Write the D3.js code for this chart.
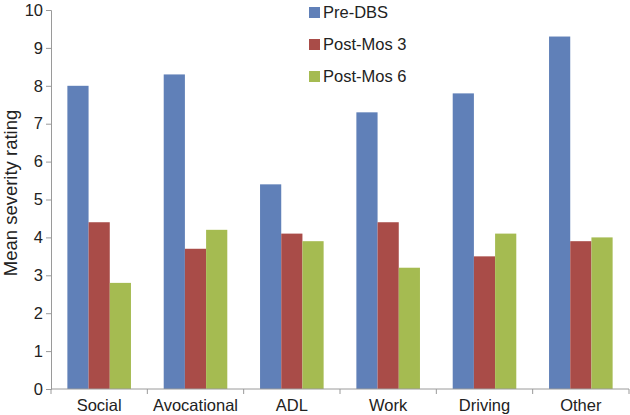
<!DOCTYPE html>
<html><head><meta charset="utf-8">
<script src="https://cdn.jsdelivr.net/npm/d3@7"></script>
<style>body{margin:0;background:#fff}svg{display:block}text{font-family:"Liberation Sans",Arial,sans-serif}</style>
</head><body>
<svg id="c" width="630" height="415"></svg>
<script>
const categories = ["Social","Avocational","ADL","Work","Driving","Other"];
const seriesNames = ["Pre-DBS","Post-Mos 3","Post-Mos 6"];
const preDBS = [8.0, 8.3, 5.4, 7.3, 7.8, 9.3];
const postMos3 = [4.4, 3.7, 4.1, 4.4, 3.5, 3.9];
const postMos6 = [2.8, 4.2, 3.9, 3.2, 4.1, 4.0];
const yTicks = [0,1,2,3,4,5,6,7,8,9,10];
const colors = ["#6080b8","#a94c48","#a5bb51"];

const series = [preDBS, postMos3, postMos6];
const svg = d3.select("#c");
const m = {left:51, right:629, top:10, bottom:389};
const x = d3.scaleBand().domain(categories).range([m.left, m.right]).paddingInner(0.34).paddingOuter(0.17);
const x1 = d3.scaleBand().domain(seriesNames).range([0, x.bandwidth()]);
const y = d3.scaleLinear().domain([0,10]).range([m.bottom, m.top]);

const g = svg.append("g");
categories.forEach((c,i)=>{
  seriesNames.forEach((s,j)=>{
    g.append("rect").attr("x", x(c)+x1(s)).attr("y", y(series[j][i]))
     .attr("width", x1.bandwidth()).attr("height", y(0)-y(series[j][i])).attr("fill", colors[j]);
  });
});

const axisColor = "#9a9a9a";
const ya = svg.append("g").attr("transform",`translate(${m.left},0)`)
  .call(d3.axisLeft(y).tickValues(yTicks).tickSize(5).tickPadding(3));
ya.select(".domain").attr("stroke",axisColor);
ya.selectAll(".tick line").attr("stroke",axisColor);
ya.selectAll("text").attr("font-size",16.5).attr("fill","#222").attr("font-family","Liberation Sans, Arial, sans-serif");

const xa = svg.append("g").attr("transform",`translate(0,${m.bottom})`);
xa.append("line").attr("x1",m.left).attr("x2",m.right).attr("stroke",axisColor);
const bounds = d3.range(categories.length+1).map(i=>m.left + i*(m.right-m.left)/categories.length);
bounds.forEach(b=>xa.append("line").attr("x1",b).attr("x2",b).attr("y1",0).attr("y2",5).attr("stroke",axisColor));
categories.forEach((c,i)=>{
  xa.append("text").attr("x",(bounds[i]+bounds[i+1])/2).attr("y",22).attr("text-anchor","middle")
    .attr("font-size",16.5).attr("fill","#222").text(c);
});

svg.append("text").attr("transform",`translate(17,193) rotate(-90)`)
  .attr("text-anchor","middle").attr("font-size",18.5).attr("fill","#222").text("Mean severity rating");

const lg = svg.append("g").attr("transform","translate(309,12)");
seriesNames.forEach((s,j)=>{
  lg.append("rect").attr("x",0).attr("y",j*32-5).attr("width",11).attr("height",11).attr("fill",colors[j]);
  lg.append("text").attr("x",14).attr("y",j*32+6).attr("font-size",16.5).attr("fill","#222").text(s);
});
</script>
</body></html>
